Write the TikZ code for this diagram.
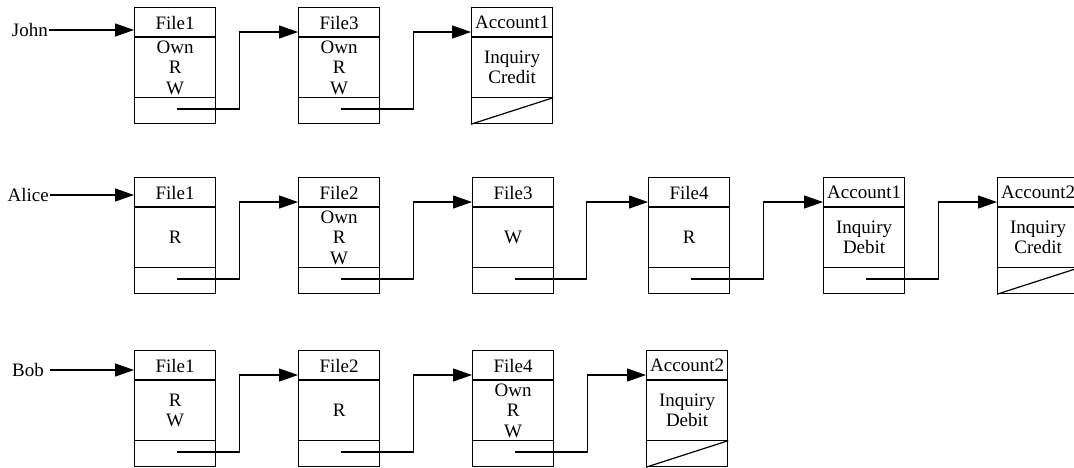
\documentclass[tikz,border=0pt]{standalone}
\usepackage{fontspec}
\setmainfont{Liberation Serif}
\usetikzlibrary{arrows.meta,calc}
\tikzset{
  boxframe/.style={draw, line width=1.2pt, minimum width=81pt, minimum height=116pt, inner sep=0pt, anchor=north west},
  divline/.style={line width=1.2pt},
  lbl/.style={font=\fontsize{19}{20.5}\selectfont, inner sep=0pt, align=center},
  namelbl/.style={font=\fontsize{19}{20.5}\selectfont, inner sep=1pt, anchor=east},
  link/.style={line width=1.2pt, -{Triangle[length=19pt,width=13pt]}},
}
\newcommand{\recbox}[5]{%
  \node[boxframe] (#1) at (#2,#3) {};
  \draw[divline] ($(#1.north west)+(0,30)$) -- ($(#1.north east)+(0,30)$);
  \draw[divline] ($(#1.south west)+(0,-26.5)$) -- ($(#1.south east)+(0,-26.5)$);
  \node[lbl] (#1-t) at ($(#1.north)+(0,15.5)$) {#4};
  \node[lbl] (#1-b) at ($(#1.north)+(0,60.5)$) {#5};
  \coordinate (#1-out) at ($(#1.north west)+(43,102)$);
  \coordinate (#1-in) at ($(#1.north west)+(0,25)$);
}
\newcommand{\slashfoot}[1]{%
  \draw[divline] (#1.south west) -- ($(#1.south east)+(0,-26.5)$);
}
\begin{document}
\begin{tikzpicture}[x=1pt,y=-1pt]
\useasboundingbox (0,0) rectangle (1074,467);

% Row 1: John
\recbox{j1}{134}{7}{File1}{Own\\R\\W}
\recbox{j3}{298}{7}{File3}{Own\\R\\W}
\recbox{ja1}{471}{7}{Account1}{Inquiry\\Credit}
\slashfoot{ja1}
\node[namelbl] (john) at (49,30) {John};
\draw[link] (john.east) -- (john.east -| j1.west);
\draw[link] (j1-out) -| ([xshift=23pt]j1.east) |- (j3-in);
\draw[link] (j3-out) -| ([xshift=33pt]j3.east) |- (ja1-in);

% Row 2: Alice
\recbox{a1}{134}{177}{File1}{R}
\recbox{a2}{298}{177}{File2}{Own\\R\\W}
\recbox{a3}{472}{177}{File3}{W}
\recbox{a4}{648}{177}{File4}{R}
\recbox{aa1}{823}{177}{Account1}{Inquiry\\Debit}
\recbox{aa2}{997}{177}{Account2}{Inquiry\\Credit}
\slashfoot{aa2}
\node[namelbl] (alice) at (50,195) {Alice};
\draw[link] (alice.east) -- (alice.east -| a1.west);
\draw[link] (a1-out) -| ([xshift=23pt]a1.east) |- (a2-in);
\draw[link] (a2-out) -| ([xshift=33pt]a2.east) |- (a3-in);
\draw[link] (a3-out) -| ([xshift=32pt]a3.east) |- (a4-in);
\draw[link] (a4-out) -| ([xshift=33pt]a4.east) |- (aa1-in);
\draw[link] (aa1-out) -| ([xshift=33pt]aa1.east) |- (aa2-in);

% Row 3: Bob
\recbox{b1}{134}{350}{File1}{R\\W}
\recbox{b2}{298}{350}{File2}{R}
\recbox{b4}{472}{350}{File4}{Own\\R\\W}
\recbox{ba2}{646}{350}{Account2}{Inquiry\\Debit}
\slashfoot{ba2}
\node[namelbl] (bob) at (45,370) {Bob};
\draw[link] ([xshift=5pt]bob.east) -- (bob.east -| b1.west);
\draw[link] (b1-out) -| ([xshift=23pt]b1.east) |- (b2-in);
\draw[link] (b2-out) -| ([xshift=33pt]b2.east) |- (b4-in);
\draw[link] (b4-out) -| ([xshift=33pt]b4.east) |- (ba2-in);
\end{tikzpicture}
\end{document}
